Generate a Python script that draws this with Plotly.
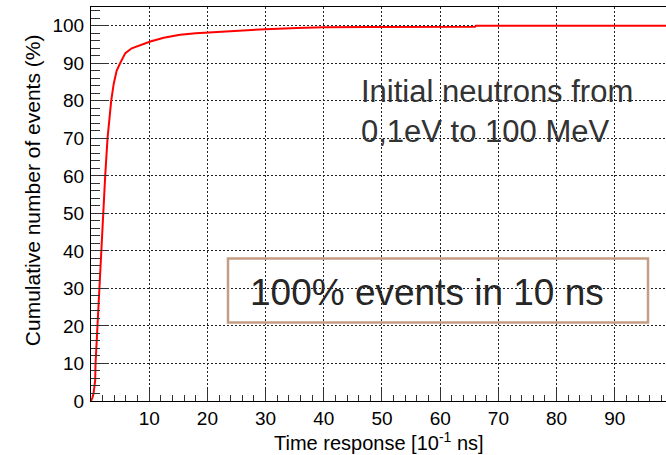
import plotly.graph_objects as go

# Cumulative distribution
time_response = [0.0, 0.1, 0.25, 0.43, 0.6, 0.72, 0.78, 0.95, 1.12, 1.35, 1.7, 2.04, 2.44,
                 2.84, 3.1, 3.47, 3.9, 4.4, 5.0, 5.9, 7.0, 8.5, 10.2, 12.5, 15.3, 18.0,
                 20.0, 25.6, 30.0, 35.4, 40.0, 48.0, 53.0, 66.0, 66.1, 99.0]
cumulative_pct = [0.0, 0.3, 0.9, 1.9, 3.5, 5.5, 10.0, 15.0, 20.0, 30.0, 40.0, 50.0, 60.0,
                  70.0, 75.0, 80.0, 84.5, 88.0, 90.0, 92.7, 94.0, 94.8, 95.8, 96.8, 97.6, 98.0,
                  98.2, 98.7, 99.1, 99.4, 99.6, 99.7, 99.75, 99.75, 100.0, 100.0]

x_tickvals = [10, 20, 30, 40, 50, 60, 70, 80, 90]
y_tickvals = [0, 10, 20, 30, 40, 50, 60, 70, 80, 90, 100]

FONT = "Liberation Sans, Arial, Helvetica, sans-serif"

fig = go.Figure()
fig.add_trace(go.Scatter(
    x=time_response, y=cumulative_pct, mode="lines",
    line=dict(color="#ff0000", width=2), showlegend=False,
))

fig.update_layout(
    width=666, height=455,
    margin=dict(l=91, r=0, t=7, b=54),
    paper_bgcolor="white", plot_bgcolor="white",
    font=dict(family=FONT, color="black"),
    xaxis=dict(
        range=[0, 98.8], tickvals=x_tickvals, ticktext=[str(v) for v in x_tickvals],
        showgrid=True, gridcolor="#222", griddash="2px,2px", gridwidth=1,
        showline=True, linecolor="black", linewidth=1, mirror=True,
        ticks="inside", ticklen=12, tickcolor="#333", tickwidth=1,
        minor=dict(ticks="inside", ticklen=6, dtick=2, tick0=0, tickcolor="#333", showgrid=False),
        tickfont=dict(size=19, family=FONT), zeroline=False, ticklabelstandoff=0,
    ),
    yaxis=dict(
        range=[0, 105], tickvals=y_tickvals, ticktext=[str(v) for v in y_tickvals],
        showgrid=True, gridcolor="#222", griddash="2px,2px", gridwidth=1,
        showline=True, linecolor="black", linewidth=1,
        ticks="inside", ticklen=18, tickcolor="#333", tickwidth=1,
        minor=dict(ticks="inside", ticklen=9, dtick=2, tick0=0, tickcolor="#333", showgrid=False),
        tickfont=dict(size=19, family=FONT), zeroline=False, ticklabelstandoff=2,
    ),
)

# axis titles
fig.add_annotation(text="Time response [10<sup>-1</sup> ns]", xref="paper", yref="paper",
                   x=0.5, y=0, yshift=-40, yanchor="middle", showarrow=False,
                   font=dict(size=20, family=FONT, color="black"))
fig.add_annotation(text="Cumulative number of events (%)", xref="paper", yref="paper",
                   x=0, xshift=-59, y=0.535, textangle=-90, xanchor="center", yanchor="middle",
                   showarrow=False, font=dict(size=21, family=FONT, color="black"))

# text notes
fig.add_annotation(text="Initial neutrons from<br>0,1eV to 100 MeV", xref="paper", yref="paper",
                   x=(359 - 91) / 575, y=(400.5 - 111) / 394, xanchor="left", yanchor="middle",
                   align="left", showarrow=False,
                   font=dict(size=31, family=FONT, color="#333333"))
fig.add_shape(type="rect", xref="paper", yref="paper",
              x0=(228 - 91) / 575, x1=(648 - 91) / 575,
              y0=(400.5 - 322) / 394, y1=(400.5 - 258) / 394,
              line=dict(color="#c49e84", width=2.5), fillcolor="rgba(0,0,0,0)")
fig.add_annotation(text="100% events in 10 ns", xref="paper", yref="paper",
                   x=(427 - 91) / 575, y=(400.5 - 292) / 394, xanchor="center", yanchor="middle",
                   showarrow=False, font=dict(size=37, family=FONT, color="#262626"))

fig.write_html("out.html")
